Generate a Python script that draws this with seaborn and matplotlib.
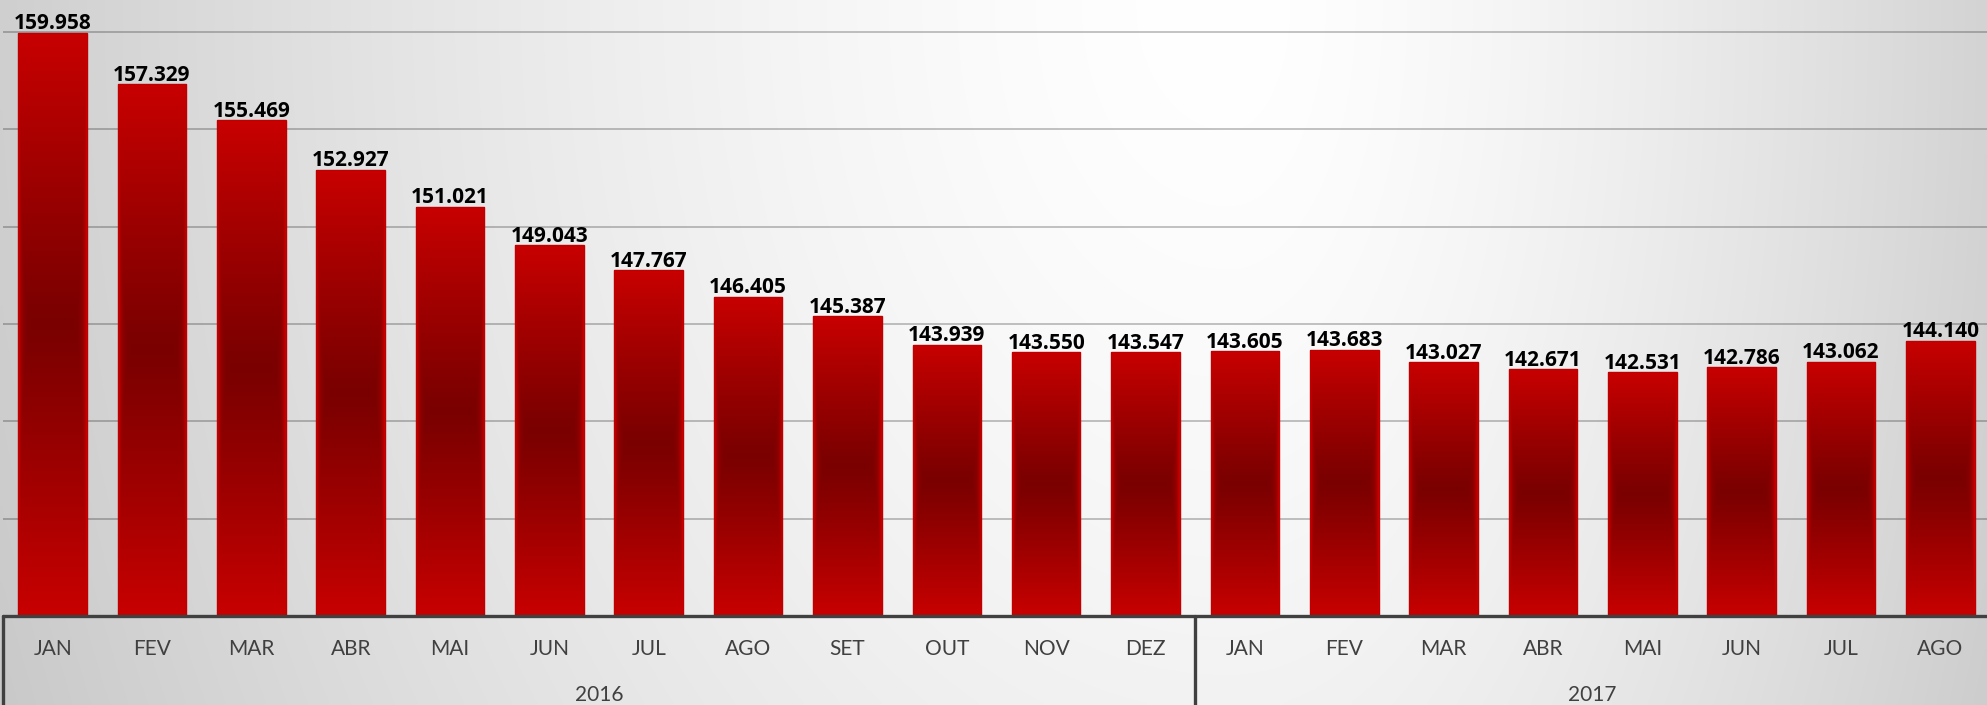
import numpy as np
import pandas as pd
import matplotlib
matplotlib.use("Agg")
import matplotlib.pyplot as plt
import seaborn as sns

months = ["JAN", "FEV", "MAR", "ABR", "MAI", "JUN", "JUL", "AGO", "SET", "OUT", "NOV", "DEZ",
          "JAN", "FEV", "MAR", "ABR", "MAI", "JUN", "JUL", "AGO"]
years = ["2016"] * 12 + ["2017"] * 8
values = [159.958, 157.329, 155.469, 152.927, 151.021, 149.043, 147.767, 146.405, 145.387,
          143.939, 143.550, 143.547, 143.605, 143.683, 143.027, 142.671, 142.531, 142.786,
          143.062, 144.140]
year_groups = ["2016", "2017"]

sns.set_theme(style="white")
plt.rcParams['font.family'] = ['Lato', 'DejaVu Sans']

W, H = 1987, 705
fig = plt.figure(figsize=(W / 100, H / 100), dpi=100)

# background gradient
bg = fig.add_axes([0, 0, 1, 1], zorder=-10)
xs = np.linspace(0, W, 400)
ys = np.linspace(0, H, 142)
X, Y = np.meshgrid(xs, ys)
cx, cy = 1230.0, 0.0
rx = np.where(X < cx, 1300.0, 850.0)
d = np.sqrt(((X - cx) / rx) ** 2 + ((Y - cy) / 1800.0) ** 2)
d = np.clip(d, 0, 1.2)
val = (255 - 52 * d ** 1.5) / 255.0
bgimg = np.dstack([val, val, val])
bg.imshow(bgimg, extent=(0, W, H, 0), aspect='auto', interpolation='bilinear')
bg.set_xlim(0, W)
bg.set_ylim(H, 0)
bg.axis('off')

ax_left = 3 / W
ax_bottom = (H - 616) / H
ax = fig.add_axes([ax_left, ax_bottom, (1990 - 3) / W, 616 / H])
ax.set_facecolor('none')

df = pd.DataFrame({"key": [f"{m}-{y}" for m, y in zip(months, years)], "value": values})
sns.barplot(data=df, x="key", y="value", ax=ax, width=0.69, color="#c00000",
            saturation=1, order=list(df["key"]))

ymin = 130
ymax = 160 + 32 / (584 / 30)

# gradient fill bars
bright = np.array([200, 0, 0]) / 255
dark = np.array([122, 0, 0]) / 255
for p in ax.patches:
    x0 = p.get_x()
    w = p.get_width()
    top = p.get_height()
    n_v, n_h = 200, 60
    v = np.linspace(1, -1, n_v)[:, None]
    u = np.linspace(-1, 1, n_h)[None, :]
    f = np.maximum(np.abs(v) ** 1.1, np.abs(u) ** 10)
    f = np.clip(f, 0, 1)
    img = dark[None, None, :] + (bright - dark)[None, None, :] * f[:, :, None]
    im = ax.imshow(img, extent=(x0, x0 + w, ymin, top), aspect='auto',
                   interpolation='bilinear', zorder=2)
    im.set_clip_path(p)
    p.set_facecolor('none')
    p.set_edgecolor('#c00000')
    p.set_linewidth(1.0)
    p.set_zorder(3)

ax.set_xlim(-0.5, 19.5)
ax.set_ylim(ymin, ymax)
ax.set_yticks(np.arange(130, 161, 5))
ax.yaxis.grid(True, color='black', alpha=0.25, linewidth=1.3)
ax.set_axisbelow(True)
ax.tick_params(axis='both', length=0, labelleft=False, labelbottom=False)
ax.set_xlabel("")
ax.set_ylabel("")
for s in ax.spines.values():
    s.set_visible(False)

# axis line
ax.axhline(ymin, color='#404040', linewidth=2.4, zorder=5, clip_on=False)

# value labels
for i, vv in enumerate(values):
    ax.annotate(f"{vv:.3f}", xy=(i, vv), xytext=(0, 2.5), textcoords='offset points',
                ha='center', va='baseline', fontsize=15, fontweight='bold',
                family=['Open Sans', 'DejaVu Sans'],
                color='#000000', zorder=6, annotation_clip=False)

trans = ax.get_xaxis_transform()
axh = 616.0
for i, m in enumerate(months):
    ax.text(i, -33 / axh, m, transform=trans, ha='center', va='center',
            fontsize=15, color='#404040')

# year group labels and separators
bottom_frac = -(H - 616) / axh
seps = [-0.5, 11.5, 19.5]
for xsep in seps:
    ax.plot([xsep, xsep], [0, bottom_frac], transform=trans, color='#404040',
            linewidth=2.4, clip_on=False, zorder=5)
for k, yg in enumerate(year_groups):
    xc = (seps[k] + seps[k + 1]) / 2
    ax.text(xc, -79 / axh, yg, transform=trans, ha='center', va='center',
            fontsize=15, color='#404040')

fig.savefig("out.png", dpi=100)
